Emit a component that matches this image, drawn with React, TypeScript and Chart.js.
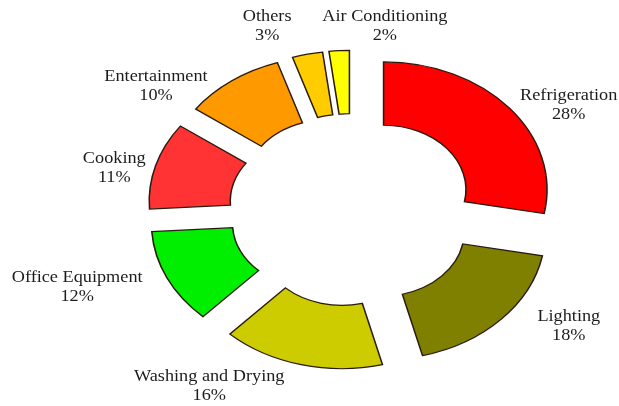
import React, { useEffect, useRef } from "react";
import { Chart, registerables } from "chart.js";

Chart.register(...registerables);

const categories = [
  "Refrigeration",
  "Lighting",
  "Washing and Drying",
  "Office Equipment",
  "Cooking",
  "Entertainment",
  "Others",
  "Air Conditioning",
];
const shares = [28, 18, 16, 12, 11, 10, 3, 2];
const percentLabels = ["28%", "18%", "16%", "12%", "11%", "10%", "3%", "2%"];

const sliceColors = [
  "#ff0000",
  "#808000",
  "#cccc00",
  "#00ee00",
  "#ff3333",
  "#ff9900",
  "#ffcc00",
  "#ffff00",
];

// label placement (angle clockwise from top in degrees, distance from centre in px)
const labelPlacement: [number, number][] = [
  [58.1, 199.4],
  [124.2, 204.8],
  [212.5, 207.6],
  [250.5, 227.8],
  [283.0, 190.6],
  [309.2, 197.6],
  [340.3, 196.6],
  [7.9, 186.8],
];

const STRETCH_X = 1.28; // horizontal stretch of the whole figure
const TEXT_STRETCH_X = 1.14;
const EXPLODE = 32;

const explodePlugin = {
  id: "explodeStretch",
  beforeDatasetsDraw(chart: any) {
    const area = chart.chartArea;
    const cx = (area.left + area.right) / 2;
    const cy = (area.top + area.bottom) / 2;
    const meta = chart.getDatasetMeta(0);
    meta.data.forEach((el: any) => {
      const mid = (el.startAngle + el.endAngle) / 2;
      el.x = cx + Math.cos(mid) * EXPLODE;
      el.y = cy + Math.sin(mid) * EXPLODE;
    });
    const ctx = chart.ctx;
    ctx.save();
    ctx.translate(cx, 0);
    ctx.scale(STRETCH_X, 1);
    ctx.translate(-cx, 0);
  },
  afterDatasetsDraw(chart: any) {
    const ctx = chart.ctx;
    ctx.restore();
    const area = chart.chartArea;
    const cx = (area.left + area.right) / 2;
    const cy = (area.top + area.bottom) / 2;
    ctx.save();
    ctx.fillStyle = "#1c1c1c";
    ctx.font = '16px "Liberation Serif", "Times New Roman", serif';
    ctx.textAlign = "center";
    ctx.textBaseline = "alphabetic";
    categories.forEach((name, i) => {
      const [deg, dist] = labelPlacement[i];
      const a = (deg * Math.PI) / 180;
      const x = cx + Math.sin(a) * dist * STRETCH_X;
      const y = cy - Math.cos(a) * dist;
      ctx.save();
      ctx.translate(x, y);
      ctx.scale(TEXT_STRETCH_X, 1);
      ctx.fillText(name, 0, -4.2);
      ctx.fillText(percentLabels[i], 0, 14.8);
      ctx.restore();
    });
    ctx.restore();
  },
};

export default function App() {
  const canvasRef = useRef<HTMLCanvasElement | null>(null);

  useEffect(() => {
    if (!canvasRef.current) return;
    const chart = new Chart(canvasRef.current, {
      type: "doughnut",
      data: {
        labels: categories,
        datasets: [
          {
            data: shares,
            backgroundColor: sliceColors,
            borderColor: "#2a1a10",
            borderWidth: 1.2,
            borderJoinStyle: "miter",
            clip: false,
          } as any,
        ],
      },
      options: {
        responsive: false,
        maintainAspectRatio: false,
        animation: false,
        devicePixelRatio: 1,
        radius: 127.7,
        cutout: "50.4%",
        layout: { padding: { left: 85, right: 0, top: 14, bottom: 0 } },
        plugins: {
          legend: { display: false },
          tooltip: { enabled: false },
        },
        events: [],
      } as any,
      plugins: [explodePlugin],
    });
    return () => chart.destroy();
  }, []);

  return (
    <div style={{ position: "fixed", left: 0, top: 0, width: 619, height: 406, background: "#ffffff" }}>
      <canvas ref={canvasRef} width={619} height={406} style={{ display: "block" }} />
    </div>
  );
}
